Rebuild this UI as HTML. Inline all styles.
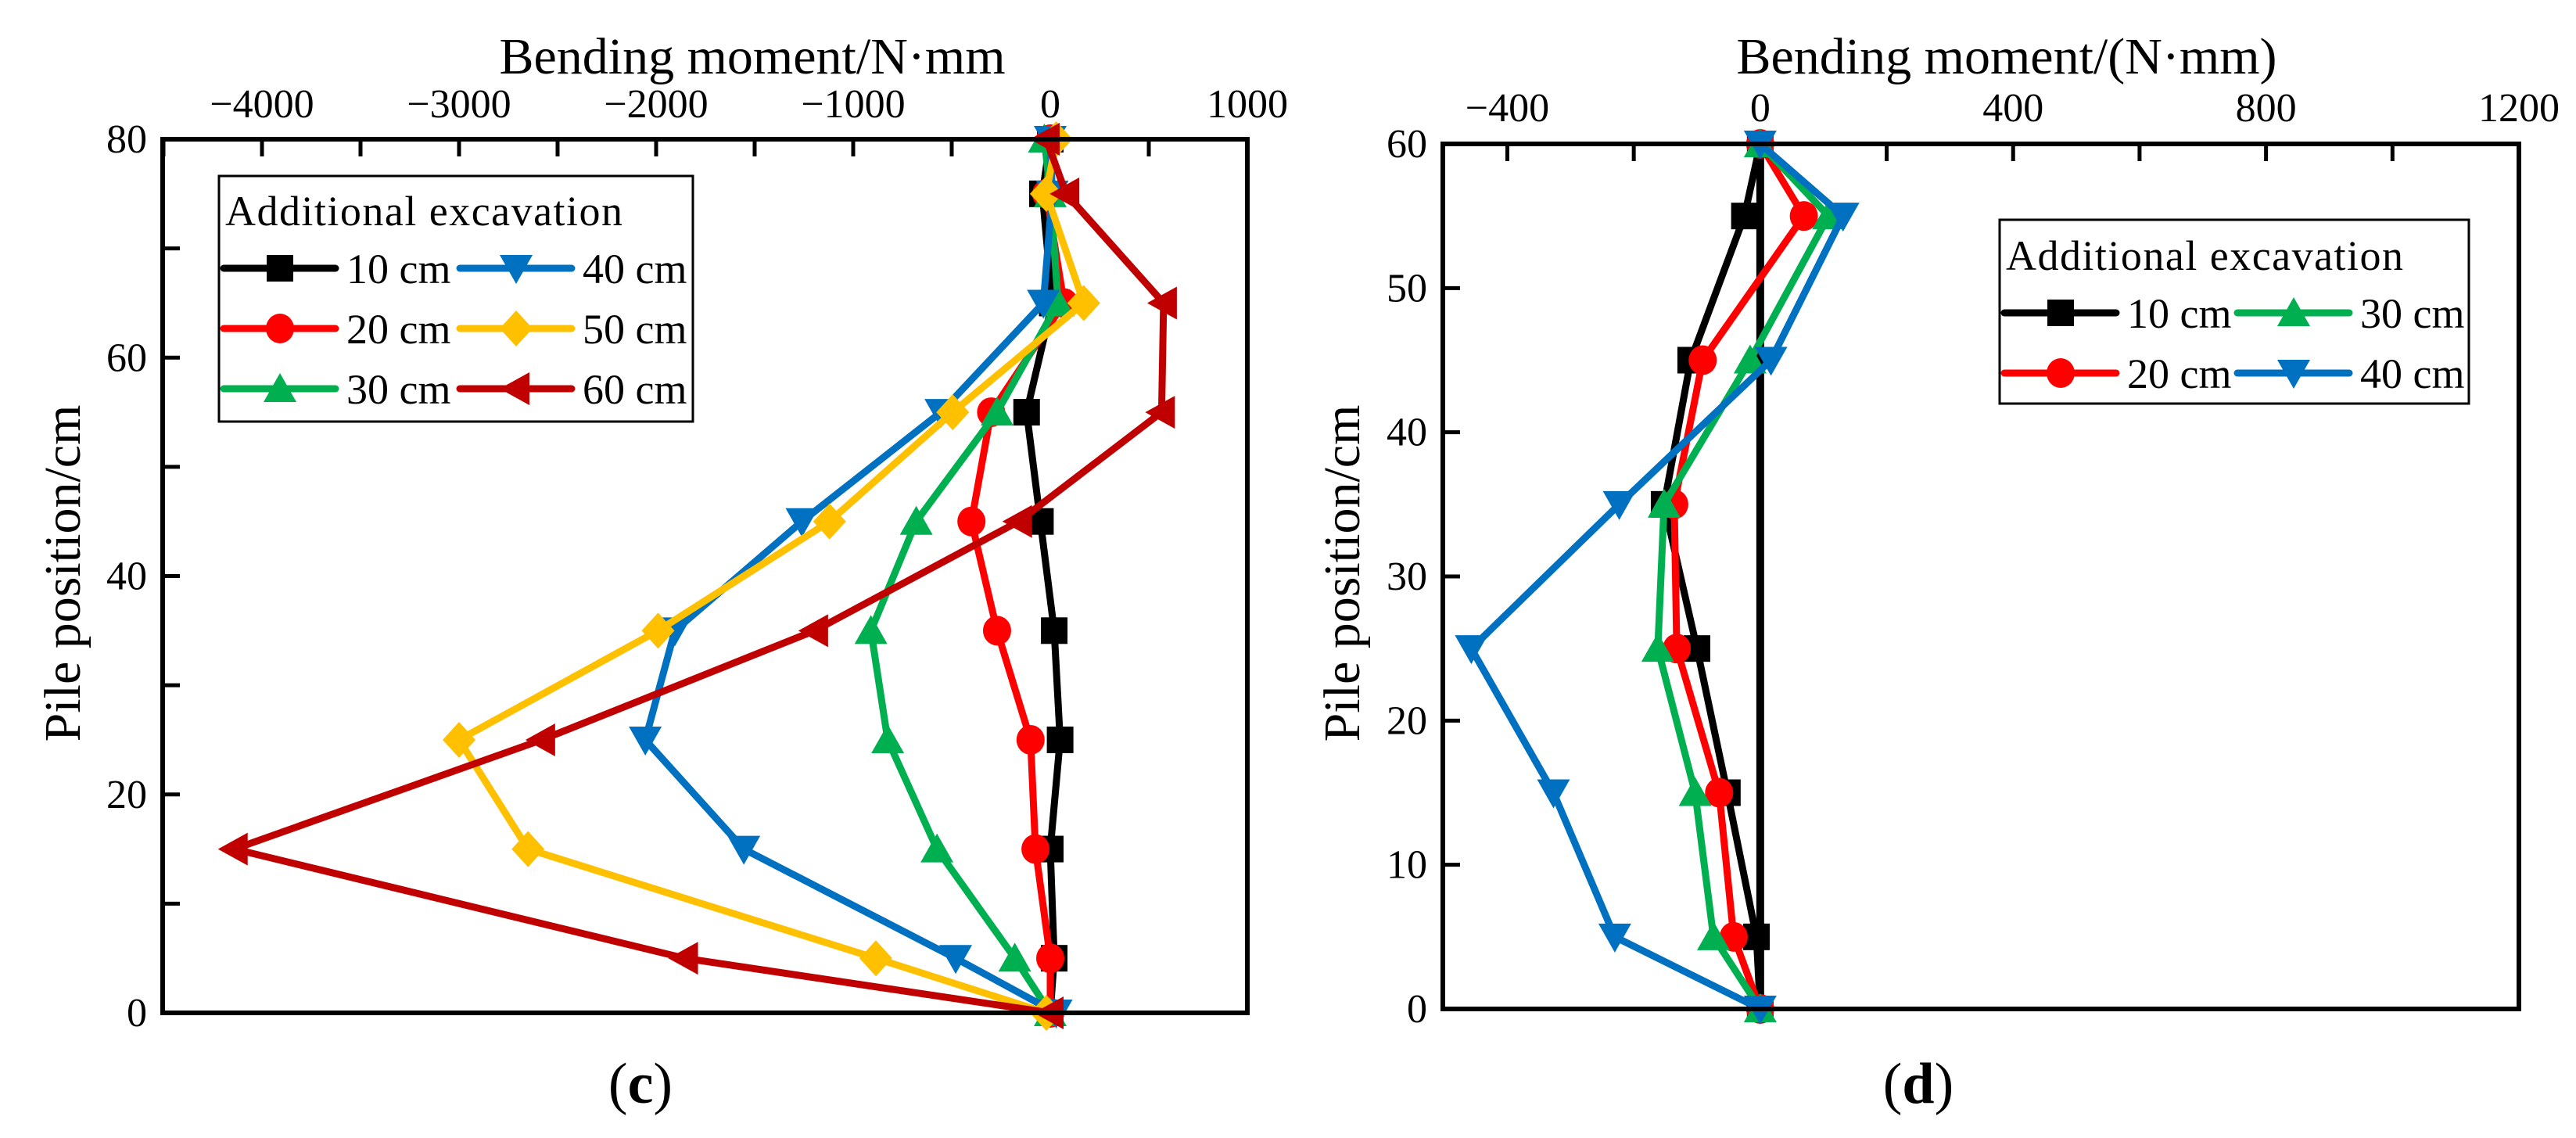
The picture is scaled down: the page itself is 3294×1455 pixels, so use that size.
<!DOCTYPE html>
<html><head><meta charset="utf-8"><style>
html,body{margin:0;padding:0;background:#fff}
svg{display:block;font-family:"Liberation Serif",serif}
</style></head><body>
<svg id="fig" width="3294" height="1455" viewBox="0 0 3294 1455" xmlns="http://www.w3.org/2000/svg"></svg>
<script>
// ---- chart (c) data ----
const cDepths = [80, 75, 65, 55, 45, 35, 25, 15, 5, 0];
const c10 = [0, -40, 10, -120, -50, 20, 50, 0, 20, 0];
const c20 = [0, -20, 70, -300, -400, -270, -100, -75, 0, 0];
const c30 = [-30, 0, 40, -270, -680, -910, -825, -575, -180, 0];
const c40 = [0, 10, -35, -555, -1260, -1905, -2055, -1555, -480, 30];
const c50 = [30, -20, 170, -495, -1120, -1990, -3000, -2650, -885, -20];
const c60 = [-20, 80, 575, 565, -160, -1195, -2580, -4140, -1855, 0];
const cXTicks = [-4000, -3000, -2000, -1000, 0, 1000];
const cYTicks = [0, 20, 40, 60, 80];
// ---- chart (d) data ----
const dDepths = [60, 55, 45, 35, 25, 15, 5, 0];
const d10 = [0, -25, -110, -152, -100, -52, -6, 0];
const d20 = [0, 69, -91, -136, -132, -65, -42, 0];
const d30 = [0, 108, -16, -152, -162, -103, -74, 0];
const d40 = [0, 131, 17, -223, -457, -327, -230, 0];
const dXTicks = [-400, 0, 400, 800, 1200];
const dYTicks = [0, 10, 20, 30, 40, 50, 60];
const dZeroLine = [0, 60];

const NS = "http://www.w3.org/2000/svg";
const svg = document.getElementById("fig");
function mk(tag, attrs, parent) {
  const e = document.createElementNS(NS, tag);
  for (const k in attrs) e.setAttribute(k, attrs[k]);
  (parent || svg).appendChild(e);
  return e;
}
function txt(s, attrs, parent) { const t = mk("text", attrs, parent); t.textContent = s; return t; }
const fmt = v => v < 0 ? "\u2212" + Math.abs(v) : String(v);

function marker(g, type, x, y, color) {
  const r = 17;
  let el;
  if (type === "square") el = mk("rect", {x: x - r, y: y - r, width: 2 * r, height: 2 * r, fill: color}, g);
  else if (type === "circle") el = mk("ellipse", {cx: x, cy: y, rx: r + 1, ry: r + 2, fill: color}, g);
  else if (type === "up") el = mk("polygon", {points: `${x},${y - r - 3} ${x - r - 4},${y + r} ${x + r + 4},${y + r}`, fill: color}, g);
  else if (type === "down") el = mk("polygon", {points: `${x},${y + r + 3} ${x - r - 4},${y - r} ${x + r + 4},${y - r}`, fill: color}, g);
  else if (type === "diamond") el = mk("polygon", {points: `${x},${y - 23} ${x + 21},${y} ${x},${y + 23} ${x - 21},${y}`, fill: color}, g);
  else if (type === "left") el = mk("polygon", {points: `${x - r - 4},${y} ${x + r},${y - r - 4} ${x + r},${y + r + 4}`, fill: color}, g);
  
  
}

function chart(cfg) {
  const {L, R, T, B, xmin, xmax, ymin, ymax} = cfg;
  const X = v => L + (v - xmin) / (xmax - xmin) * (R - L);
  const Y = v => B - (v - ymin) / (ymax - ymin) * (B - T);
  const g = mk("g", {});
  
  
  // ticks
  const tg = mk("g", {stroke: "#000", "stroke-width": 5}, g);
  
  
  for (let v = cfg.xTicks[0] - cfg.xMinor; v <= xmax + 1e-6; v += cfg.xMinor) {
    if (v <= xmin || v >= xmax) continue;
    mk("line", {x1: X(v), x2: X(v), y1: T, y2: T + 22}, tg);
  }
  for (let v = ymin + cfg.yMinor; v < ymax; v += cfg.yMinor) mk("line", {x1: L, x2: L + 22, y1: Y(v), y2: Y(v)}, tg);
  cfg.xTicks.forEach(v => {
    const t = txt(fmt(v), {x: X(v), y: cfg.xLabY, "font-size": 52, "text-anchor": "middle"}, g);
    
    
  });
  cfg.yTicks.forEach(v => {
    const t = txt(String(v), {x: L - 20, y: Y(v) + 17, "font-size": 52, "text-anchor": "end"}, g);
    
    
  });
  const xt = txt(cfg.xTitle, {x: cfg.xTitleX, y: 94, "font-size": 66, "text-anchor": "middle"}, g);
  
  
  const yt = txt("Pile position/cm", {x: 0, y: 0, "font-size": 66, "text-anchor": "middle", transform: `translate(${cfg.yTitleX},733) rotate(-90)`}, g);
  
  
  const pl = txt("(", {x: cfg.panelX, y: 1410, "font-size": 74, "text-anchor": "middle"}, g);
  pl.textContent = "";
  const ts1 = mk("tspan", {}, pl); ts1.textContent = "(";
  const ts2 = mk("tspan", {"font-weight": "bold"}, pl); ts2.textContent = cfg.panel;
  const ts3 = mk("tspan", {}, pl); ts3.textContent = ")";
  
  
  if (cfg.zeroLine) {
    const zl = mk("line", {x1: X(0), x2: X(0), y1: Y(cfg.zeroLine[0]), y2: Y(cfg.zeroLine[1]), stroke: "#000", "stroke-width": 10}, g);
    
    
  }
  // series
  cfg.series.forEach(s => {
    const sg = mk("g", {}, g);
    
    
    const pts = s.vals.map((v, i) => X(v) + "," + Y(cfg.depths[i])).join(" ");
    mk("polyline", {points: pts, fill: "none", stroke: s.color, "stroke-width": 9, "stroke-linejoin": "round"}, sg);
    s.vals.forEach((v, i) => marker(sg, s.m, X(v), Y(cfg.depths[i]), s.color));
  });
  // frame
  const fr = mk("rect", {x: L, y: T, width: R - L, height: B - T, fill: "none", stroke: "#000", "stroke-width": 6}, g);
  
  
  // legend
  const lg = cfg.legend;
  const leg = mk("g", {}, g);
  
  
  mk("rect", {x: lg.x, y: lg.y, width: lg.w, height: lg.h, fill: "#fff", stroke: "#000", "stroke-width": 3}, leg);
  const lt = txt("Additional excavation", {x: lg.x + 8, y: lg.titleY, "font-size": 54, textLength: 508}, leg);
  
  
  cfg.series.forEach((s, i) => {
    const col = Math.floor(i / lg.rows), row = i % lg.rows;
    const x0 = lg.x + 6 + col * lg.colW, y0 = lg.rowY[row];
    const e = mk("g", {}, leg);
    
    
    mk("line", {x1: x0, x2: x0 + 143, y1: y0, y2: y0, stroke: s.color, "stroke-width": 9, "stroke-linecap": "round"}, e);
    marker(e, s.m, x0 + 72, y0, s.color);
    txt(s.label, {x: x0 + 157, y: y0 + 19, "font-size": 54}, e);
  });
}

chart({
  name: "chart-c", panel: "c", panelX: 819,
  L: 208, R: 1595, T: 178, B: 1295, xmin: -4504, xmax: 1000, ymin: 0, ymax: 80,
  xTicks: cXTicks, yTicks: cYTicks, xMinor: 500, yMinor: 10, xLabY: 150,
  xTitle: "Bending moment/N\u00B7mm", xTitleX: 962, yTitleX: 102, depths: cDepths,
  series: [
    {label: "10 cm", vals: c10, color: "#000000", m: "square"},
    {label: "20 cm", vals: c20, color: "#FF0000", m: "circle"},
    {label: "30 cm", vals: c30, color: "#00B050", m: "up"},
    {label: "40 cm", vals: c40, color: "#0070C0", m: "down"},
    {label: "50 cm", vals: c50, color: "#FFC000", m: "diamond"},
    {label: "60 cm", vals: c60, color: "#C00000", m: "left"}
  ],
  legend: {x: 280, y: 225, w: 606, h: 314, titleY: 288, rows: 3, colW: 302, rowY: [343, 420, 497]}
});
chart({
  name: "chart-d", panel: "d", panelX: 2453,
  L: 1845, R: 3221, T: 184, B: 1290, xmin: -502, xmax: 1200, ymin: 0, ymax: 60,
  xTicks: dXTicks, yTicks: dYTicks, xMinor: 200, yMinor: 10, xLabY: 155,
  xTitle: "Bending moment/(N\u00B7mm)", xTitleX: 2566, yTitleX: 1738, depths: dDepths,
  zeroLine: dZeroLine,
  series: [
    {label: "10 cm", vals: d10, color: "#000000", m: "square"},
    {label: "20 cm", vals: d20, color: "#FF0000", m: "circle"},
    {label: "30 cm", vals: d30, color: "#00B050", m: "up"},
    {label: "40 cm", vals: d40, color: "#0070C0", m: "down"}
  ],
  legend: {x: 2557, y: 281, w: 600, h: 235, titleY: 345, rows: 2, colW: 298, rowY: [400, 477]}
});
</script>
</body></html>
